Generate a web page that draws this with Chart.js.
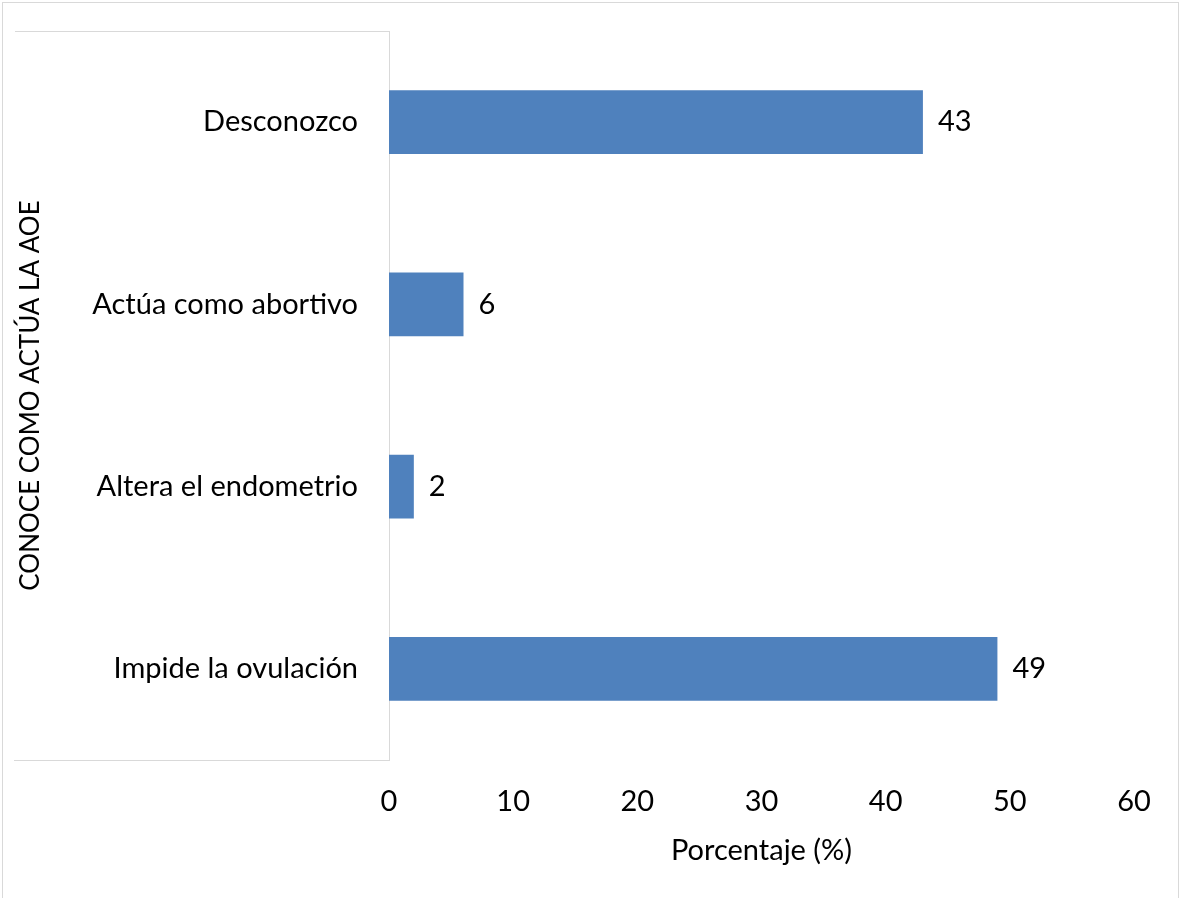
<!DOCTYPE html>
<html lang="es">
<head>
<meta charset="utf-8">
<title>Conoce cómo actúa la AOE</title>
<script src="https://cdn.jsdelivr.net/npm/chart.js@4/dist/chart.umd.min.js"></script>
<style>
  html, body { margin: 0; padding: 0; background: #fff; }
  #wrap { position: relative; width: 1180px; height: 898px; }
</style>
</head>
<body>
<div id="wrap"><canvas id="chart"></canvas></div>
<script>
// Respuestas sobre el mecanismo de acción de la AOE (porcentaje)
const categories = ['Desconozco', 'Actúa como abortivo', 'Altera el endometrio', 'Impide la ovulación'];
const percentages = [43, 6, 2, 49];
const xTicks = [0, 10, 20, 30, 40, 50, 60];
const xTitle = 'Porcentaje (%)';
const yTitle = 'CONOCE COMO ACTÚA LA AOE';

const FONT = 'Lato';
const TEXT = '#000000';
const LINE = '#d9d9d9';
const BAR = '#4f81bd';

// Marco exterior y recuadro de las etiquetas de categoría
const framePlugin = {
  id: 'frame',
  beforeDraw(chart) {
    const { ctx, chartArea } = chart;
    ctx.save();
    ctx.strokeStyle = LINE;
    ctx.lineWidth = 1;
    ctx.strokeRect(2.5, 2.5, chart.width - 4, chart.height + 10);
    ctx.beginPath();
    ctx.moveTo(15, chartArea.top + 0.5);
    ctx.lineTo(chartArea.left, chartArea.top + 0.5);
    ctx.moveTo(14, chartArea.bottom + 0.5);
    ctx.lineTo(chartArea.left, chartArea.bottom + 0.5);
    ctx.stroke();
    ctx.restore();
  }
};

// Valor escrito a la derecha de cada barra
const valueLabels = {
  id: 'valueLabels',
  afterDatasetsDraw(chart) {
    const { ctx } = chart;
    ctx.save();
    ctx.font = `29px ${FONT}`;
    ctx.fillStyle = TEXT;
    ctx.textAlign = 'left';
    ctx.textBaseline = 'middle';
    chart.data.datasets.forEach((ds, i) => {
      chart.getDatasetMeta(i).data.forEach((bar, j) => {
        ctx.fillText(String(ds.data[j]), bar.x + 15, bar.y);
      });
    });
    ctx.restore();
  }
};

new Chart(document.getElementById('chart'), {
  type: 'bar',
  data: {
    labels: categories,
    datasets: [{
      data: percentages,
      backgroundColor: BAR,
      borderWidth: 0,
      categoryPercentage: 1,
      barPercentage: 0.35
    }]
  },
  options: {
    indexAxis: 'y',
    responsive: true,
    maintainAspectRatio: false,
    animation: false,
    layout: { padding: { top: 31, right: 46, bottom: 0, left: 0 } },
    plugins: {
      legend: { display: false },
      tooltip: { enabled: false }
    },
    scales: {
      x: {
        min: 0,
        max: 60,
        afterBuildTicks(scale) { scale.ticks = xTicks.map(v => ({ value: v })); },
        afterFit(scale) { scale.height = 138; },
        grid: { display: false, drawTicks: false },
        border: { display: false },
        ticks: { color: TEXT, font: { family: FONT, size: 29 }, padding: 24, maxRotation: 0 },
        title: {
          display: true,
          text: xTitle,
          color: TEXT,
          font: { family: FONT, size: 29 },
          padding: { top: 0, bottom: 30 }
        }
      },
      y: {
        afterFit(scale) {
          scale.width = 389;
          scale.paddingTop = 0;
          scale.paddingBottom = 0;
        },
        grid: { display: false, drawTicks: false },
        border: { display: true, color: LINE, width: 1 },
        ticks: { color: TEXT, font: { family: FONT, size: 29 }, padding: 31 },
        title: {
          display: true,
          text: yTitle,
          color: TEXT,
          font: { family: FONT, size: 26 },
          padding: { top: 15, bottom: 0 }
        }
      }
    }
  },
  plugins: [framePlugin, valueLabels]
});
</script>
</body>
</html>
